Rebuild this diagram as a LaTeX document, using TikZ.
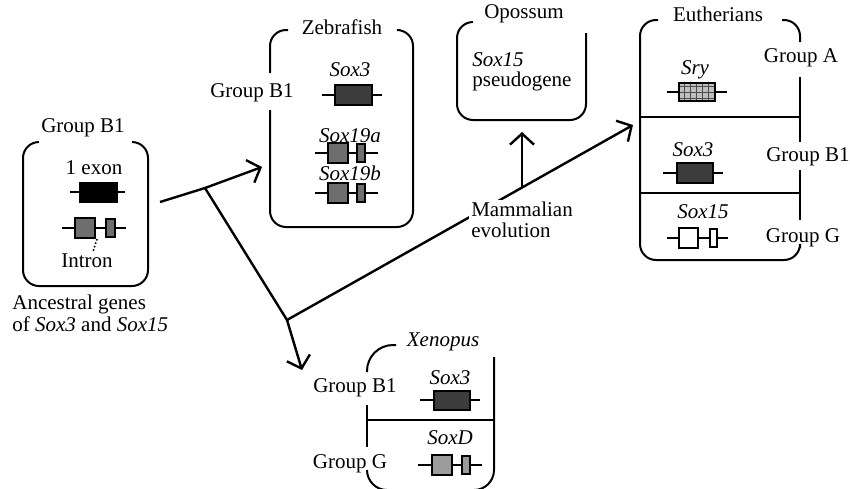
\documentclass[tikz,border=0pt]{standalone}
\usepackage{fontspec}
\setmainfont{Liberation Serif}
\usetikzlibrary{arrows.meta, patterns}

\definecolor{exdark}{HTML}{3C3C3C}
\definecolor{exgray}{HTML}{6E6E6E}
\definecolor{exlight}{HTML}{9C9C9C}

\tikzset{
    lbl/.style={font=\fontsize{10.5}{10.5}\selectfont, inner sep=1pt},
    gname/.style={font=\fontsize{10.5}{10.5}\selectfont\itshape, inner sep=1pt},
    bracket/.style={line width=1pt, rounded corners=8pt},
    divider/.style={line width=0.8pt},
    intronline/.style={line width=1pt},
    exon/.style={draw, line width=1pt},
    branch/.style={line width=1.2pt},
    evoarrow/.style={-{Straight Barb[length=5.5pt, width=12pt, line width=1.2pt]}},
}

\begin{document}
\begin{tikzpicture}[x=0.5pt, y=-0.5pt]
    \useasboundingbox (0,0) rectangle (850,488);

    % ancestral genes
    \node[lbl] (ancB1) at (83,128) {Group B1};
    \draw[bracket] (39,142) -- (23,142) -- (23,286) -- (148,286) -- (148,142) -- (132,142);
    \node[lbl] (oneexon) at (94,168) {1 exon};
    \draw[intronline] (70,192) -- (125,192);
    \filldraw[exon, fill=black] (80,183) rectangle (117,202);
    \draw[intronline] (62,228) -- (126,228);
    \filldraw[exon, fill=exgray] (75,218) rectangle (95,238);
    \filldraw[exon, fill=exgray] (106,219) rectangle (115,237);
    \node[lbl] (intron) at (87,261) {Intron};
    \coordinate (intronpt) at (97,239);
    \draw[densely dotted, line width=0.8pt] (intronpt) -- ([xshift=3pt]intron.north);
    \node[lbl, align=left, anchor=west, font=\fontsize{10.5}{11}\selectfont] (ancestral) at (10,313)
        {Ancestral genes\\of \textit{Sox3} and \textit{Sox15}};

    % zebrafish
    \node[lbl] (zebrafish) at (342,27) {Zebrafish};
    \draw[bracket] (288,30) -- (270,30) -- (270,73);
    \draw[bracket] (270,110) -- (270,227) -- (413,227) -- (413,30) -- (400,30);
    \node[lbl] (zfB1) at (252,93) {Group B1};
    \node[gname] (zfsox3) at (350,70) {Sox3};
    \draw[intronline] (322,95) -- (382,95);
    \filldraw[exon, fill=exdark] (335,85) rectangle (372,105);
    \node[gname] (sox19a) at (350,136) {Sox19a};
    \draw[intronline] (315,153) -- (378,153);
    \filldraw[exon, fill=exgray] (328,143) rectangle (348,163);
    \filldraw[exon, fill=exgray] (357,144) rectangle (365,162);
    \node[gname] (sox19b) at (350,173) {Sox19b};
    \draw[intronline] (315,193) -- (378,193);
    \filldraw[exon, fill=exgray] (328,183) rectangle (348,203);
    \filldraw[exon, fill=exgray] (357,184) rectangle (365,202);

    % opossum
    \node[lbl] (opossum) at (524,14) {Opossum};
    \draw[bracket] (473,22) -- (457,22) -- (457,120) -- (586,120) -- (586,33);
    \node[lbl, align=left, anchor=west, font=\fontsize{10.5}{10}\selectfont] (pseudo) at (470,72)
        {\textit{Sox15}\\pseudogene};

    % eutherians
    \node[lbl] (eutherians) at (718,14) {Eutherians};
    \draw[bracket] (658,20) -- (640,20) -- (640,260) -- (800,260) -- (800,248);
    \draw[bracket] (782,20) -- (800,20) -- (800,42);
    \draw[bracket] (800,77) -- (800,142);
    \draw[bracket] (800,170) -- (800,220);
    \draw[divider] (640,117) -- (800,117);
    \draw[divider] (640,193) -- (800,193);
    \node[lbl] (grpA) at (801,58) {Group A};
    \node[lbl] (grpB1) at (808,157) {Group B1};
    \node[lbl] (grpG) at (803,238) {Group G};
    \node[gname] (sry) at (695,70) {Sry};
    \draw[intronline] (667,92) -- (727,92);
    \draw[exon, preaction={fill=gray!50}, pattern=grid, pattern color=black!70] (679,83) rectangle (715,101);
    \node[gname] (eusox3) at (693,150) {Sox3};
    \draw[intronline] (663,173) -- (723,173);
    \filldraw[exon, fill=exdark] (677,163) rectangle (713,183);
    \node[gname] (sox15) at (703,212) {Sox15};
    \draw[intronline] (667,238) -- (728,238);
    \filldraw[exon, fill=white] (679,228) rectangle (698,248);
    \filldraw[exon, fill=white] (710,229) rectangle (717,247);

    % xenopus
    \node[gname] (xenopus) at (443,342) {Xenopus};
    \draw[bracket, rounded corners=13pt] (396,345) -- (367,345) -- (367,372);
    \draw[bracket] (367,405) -- (367,447);
    \draw[divider] (367,420) -- (493,420);
    \draw[bracket, rounded corners=10pt] (367,470) -- (367,490) -- (494,490) -- (494,357);
    \node[lbl] (xeB1) at (355,388) {Group B1};
    \node[lbl] (xeG) at (350,464) {Group G};
    \node[gname] (xesox3) at (450,378) {Sox3};
    \draw[intronline] (420,400) -- (480,400);
    \filldraw[exon, fill=exdark] (434,391) rectangle (470,410);
    \node[gname] (soxd) at (450,438) {SoxD};
    \draw[intronline] (418,465) -- (482,465);
    \filldraw[exon, fill=exlight] (432,455) rectangle (452,475);
    \filldraw[exon, fill=exlight] (462,456) rectangle (470,474);

    % evolution
    \coordinate (ancout) at (160,202);
    \coordinate (fork1) at (205,188);
    \coordinate (zfin) at (262,167);
    \coordinate (fork2) at (287,320);
    \coordinate (xenin) at (302,370);
    \coordinate (euthin) at (633,125);
    \coordinate (opostart) at (522,188);
    \coordinate (opoin) at (522,132);
    \draw[branch] (ancout) -- (fork1);
    \draw[branch, evoarrow] (fork1) -- (zfin);
    \draw[branch, evoarrow] (fork1) -- (fork2) -- (xenin);
    \draw[branch, evoarrow] (fork2) -- (euthin);
    \draw[branch, evoarrow] (opostart) -- (opoin);
    \node[lbl, align=left, fill=white, font=\fontsize{10.5}{10.5}\selectfont] (mammal) at (522,220)
        {Mammalian\\evolution};
\end{tikzpicture}
\end{document}
